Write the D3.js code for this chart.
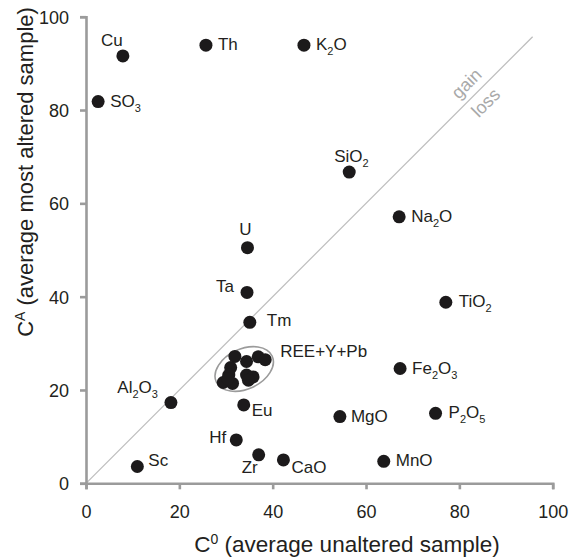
<!DOCTYPE html>
<html>
<head>
<meta charset="utf-8">
<script src="https://cdn.jsdelivr.net/npm/d3@7"></script>
<style>
  body { margin: 0; background: #fff; }
  svg { display: block; font-family: 'Liberation Sans', Arial, sans-serif; }
</style>
</head>
<body>
<div id="chart"></div>
<script>
// element names, digits are drawn as subscripts
var names = ['Cu', 'SO3', 'Th', 'K2O', 'SiO2', 'Na2O', 'U', 'Ta', 'Tm', 'Al2O3', 'Eu', 'Hf', 'Zr', 'CaO',
  'Sc', 'TiO2', 'Fe2O3', 'MgO', 'P2O5', 'MnO'];
var c0 = [7.9, 2.6, 25.7, 46.7, 56.4, 67.1, 34.6, 34.5, 35.1, 18.2, 33.8, 32.2, 37.0, 42.3,
  11.0, 77.1, 67.3, 54.4, 74.9, 63.8];
var cA = [91.6, 81.8, 93.9, 93.9, 66.7, 57.1, 50.5, 40.9, 34.5, 17.3, 16.8, 9.3, 6.1, 5.0,
  3.6, 38.8, 24.6, 14.3, 15.0, 4.7];

// REE+Y+Pb group
var reeC0 = [31.9, 34.4, 36.9, 38.4, 31.0, 30.6, 29.4, 31.4, 34.4, 35.8, 34.8, 30.4];
var reeCA = [27.2, 26.1, 27.1, 26.5, 24.8, 23.2, 21.6, 21.4, 23.2, 22.8, 22.1, 22.4];
var reeLabel = 'REE+Y+Pb';

var ticks = [0, 20, 40, 60, 80, 100];
var isoconEnd = 95.7;

(function () {
  'use strict';

  var WIDTH = 573,
    HEIGHT = 558,
    COLOR_DOT = '#1c1a1b',
    COLOR_TEXT = '#231f20',
    COLOR_AXIS = '#9b9b9b',
    COLOR_LINE = '#bdbdbd',
    COLOR_NOTE = '#a9a9a9',
    margin = { left: 86, top: 16.7, right: 20.3, bottom: 74.7 },
    svg, g, x, y, w, h, points, labelPos;

  w = WIDTH - margin.left - margin.right;
  h = HEIGHT - margin.top - margin.bottom;

  x = d3.scaleLinear().domain([0, 100]).range([0, w]);
  y = d3.scaleLinear().domain([0, 100]).range([h, 0]);

  // label offsets in px from the dot: [dx, dy, anchor]
  labelPos = {
    'Cu': [-11, -10, 'middle'],
    'SO3': [12, 5, 'start'],
    'Th': [12, 5, 'start'],
    'K2O': [12, 5, 'start'],
    'SiO2': [-15, -10, 'start'],
    'Na2O': [12, 5, 'start'],
    'U': [-2, -13, 'middle'],
    'Ta': [-13, 0, 'end'],
    'Tm': [17, 4, 'start'],
    'Al2O3': [-13, -10, 'end'],
    'Eu': [8, 11, 'start'],
    'Hf': [-10, 3, 'end'],
    'Zr': [-9, 18, 'middle'],
    'CaO': [8, 13, 'start'],
    'Sc': [11, 0, 'start'],
    'TiO2': [13, 5, 'start'],
    'Fe2O3': [12, 5, 'start'],
    'MgO': [11, 5, 'start'],
    'P2O5': [13, 5, 'start'],
    'MnO': [12, 5, 'start']
  };

  svg = d3.select('#chart').append('svg')
    .attr('width', WIDTH)
    .attr('height', HEIGHT);

  g = svg.append('g').attr('transform', 'translate(' + margin.left + ',' + margin.top + ')');

  // isocon line
  g.append('line')
    .attr('x1', x(0)).attr('y1', y(0))
    .attr('x2', x(isoconEnd)).attr('y2', y(isoconEnd))
    .attr('stroke', COLOR_LINE)
    .attr('stroke-width', 1.2);

  // gain / loss note along the line
  var note = g.append('g')
    .attr('transform', 'translate(' + x(83.6) + ',' + y(83.6) + ') rotate(-45)')
    .attr('fill', COLOR_NOTE)
    .attr('font-size', '18px')
    .attr('text-anchor', 'middle');
  note.append('text').attr('y', -13.5).attr('dominant-baseline', 'central').text('gain');
  note.append('text').attr('y', 13.5).attr('dominant-baseline', 'central').text('loss');

  // axes
  function styleAxis(sel) {
    sel.select('.domain').attr('stroke', COLOR_AXIS).attr('stroke-width', 2.6);
    sel.selectAll('.tick line').attr('stroke', COLOR_AXIS).attr('stroke-width', 2.6);
    sel.selectAll('.tick text')
      .attr('fill', COLOR_TEXT)
      .attr('font-size', '18px')
      .attr('font-family', 'Liberation Sans, Arial, sans-serif');
  }

  g.append('g')
    .attr('transform', 'translate(0,' + h + ')')
    .call(d3.axisBottom(x).tickValues(ticks).tickSize(6).tickSizeOuter(6).tickPadding(16))
    .call(styleAxis);

  g.append('g')
    .call(d3.axisLeft(y).tickValues(ticks).tickSize(6).tickSizeOuter(6).tickPadding(11))
    .call(styleAxis)
    .selectAll('.tick text').attr('dy', '0.36em');

  // axis titles
  var xt = svg.append('text')
    .attr('x', 347).attr('y', 552)
    .attr('text-anchor', 'middle')
    .attr('fill', COLOR_TEXT)
    .attr('font-size', '22.5px');
  xt.append('tspan').text('C');
  xt.append('tspan').attr('font-size', '14px').attr('dy', -8).text('0');
  xt.append('tspan').attr('dy', 8).text(' (average unaltered sample)');

  var yt = svg.append('text')
    .attr('transform', 'translate(33,172) rotate(-90)')
    .attr('text-anchor', 'middle')
    .attr('fill', COLOR_TEXT)
    .attr('font-size', '22px');
  yt.append('tspan').text('C');
  yt.append('tspan').attr('font-size', '14px').attr('dy', -8).text('A');
  yt.append('tspan').attr('dy', 8).text(' (average most altered sample)');

  // ellipse round the REE group
  g.append('ellipse')
    .attr('transform', 'translate(' + x(33.9) + ',' + y(24.5) + ') rotate(-25)')
    .attr('rx', x(6.6) - x(0))
    .attr('ry', x(4.3) - x(0))
    .attr('fill', 'none')
    .attr('stroke', COLOR_AXIS)
    .attr('stroke-width', 1.6);

  g.selectAll('circle.ree')
    .data(reeC0)
    .enter().append('circle')
    .attr('class', 'ree')
    .attr('cx', function (d) { return x(d); })
    .attr('cy', function (d, i) { return y(reeCA[i]); })
    .attr('r', 6.5)
    .attr('fill', COLOR_DOT);

  g.append('text')
    .attr('x', x(reeC0[3]) + 15)
    .attr('y', y(reeCA[3]) - 3)
    .attr('fill', COLOR_TEXT)
    .attr('font-size', '17px')
    .text(reeLabel);

  points = names.map(function (n, i) {
    return { name: n, c0: c0[i], cA: cA[i] };
  });

  g.selectAll('circle.el')
    .data(points)
    .enter().append('circle')
    .attr('class', 'el')
    .attr('cx', function (d) { return x(d.c0); })
    .attr('cy', function (d) { return y(d.cA); })
    .attr('r', 6.5)
    .attr('fill', COLOR_DOT);

  // labels, digits as subscripts
  g.selectAll('text.el')
    .data(points)
    .enter().append('text')
    .attr('class', 'el')
    .attr('x', function (d) { return x(d.c0) + labelPos[d.name][0]; })
    .attr('y', function (d) { return y(d.cA) + labelPos[d.name][1]; })
    .attr('text-anchor', function (d) { return labelPos[d.name][2]; })
    .attr('fill', COLOR_TEXT)
    .attr('font-size', '17px')
    .each(function (d) {
      var el = d3.select(this),
        parts = d.name.match(/\d+|\D+/g),
        shift = 0;
      parts.forEach(function (p) {
        var sub = /\d/.test(p),
          t = el.append('tspan').text(p);
        if (sub) {
          t.attr('font-size', '11px').attr('dy', 5 - shift);
          shift = 5;
        } else if (shift) {
          t.attr('dy', -shift);
          shift = 0;
        }
      });
    });
})();
</script>
</body>
</html>
